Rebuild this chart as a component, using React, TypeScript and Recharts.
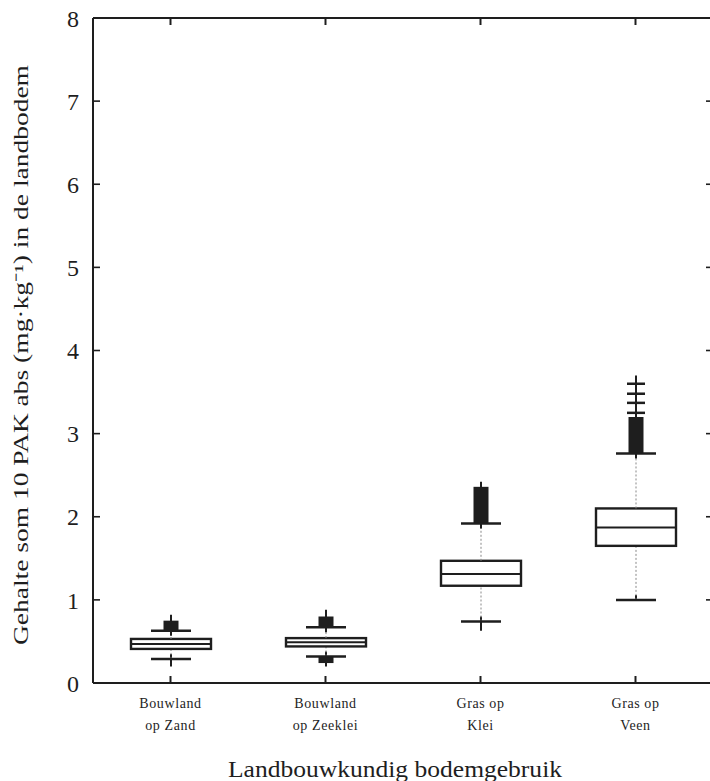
import { Bar, ComposedChart, Line, XAxis, YAxis } from 'recharts'

const categories = ['Bouwland op Zand', 'Bouwland op Zeeklei', 'Gras op Klei', 'Gras op Veen']
const labelTop = ['Bouwland', 'Bouwland', 'Gras op', 'Gras op']
const labelBottom = ['op  Zand', 'op Zeeklei', 'Klei', 'Veen']

// lowest / highest plotted value per group
const minValue = [0.2, 0.2, 0.63, 1.0]
const maxValue = [0.82, 0.88, 2.42, 3.7]
const whiskerLow = [0.29, 0.32, 0.74, 1.0]
const q1 = [0.41, 0.44, 1.17, 1.65]
const median = [0.47, 0.49, 1.31, 1.87]
const q3 = [0.53, 0.54, 1.47, 2.1]
const whiskerHigh = [0.63, 0.67, 1.92, 2.76]
// dense outlier block above the upper whisker (top value) and below the lower one
const outlierBlockTop = [0.75, 0.8, 2.36, 3.2]
const outlierBlockBottom: (number | null)[] = [null, 0.24, null, null]
const extremeOutliers = [[], [], [], [3.25, 3.37, 3.48, 3.6]]

const yTicks = [0, 1, 2, 3, 4, 5, 6, 7, 8]

const data = categories.map((name, i) => ({
  name,
  i,
  range: [minValue[i], maxValue[i]],
  mid: median[i],
}))

const ink = '#1e1e1e'
const serif = 'Liberation Serif'
const GAP = 12 // tickMargin used by every axis
const TICK = 7 // inward tick length

function BoxShape(props: any) {
  const { x, y, width, height, payload } = props
  const i = payload.i
  const top = Math.min(y, y + height)
  const h = Math.abs(height)
  const lo = minValue[i]
  const hi = maxValue[i]
  const py = (v: number) => top + ((hi - v) / (hi - lo)) * h
  const cx = x + width / 2
  const half = width / 2
  const capHalf = 20
  const blockHalf = 7.5
  const lb = outlierBlockBottom[i]
  return (
    <g>
      {/* lower part */}
      <line x1={cx} x2={cx} y1={py(lo)} y2={py(whiskerLow[i]) - 5} stroke={ink} strokeWidth={2} />
      {lb != null && (
        <rect x={cx - blockHalf} y={py(whiskerLow[i])} width={blockHalf * 2} height={py(lb) - py(whiskerLow[i])} fill={ink} />
      )}
      <line x1={cx} x2={cx} y1={py(whiskerLow[i])} y2={py(q1[i])} stroke="#888" strokeWidth={1} strokeDasharray="2 2" />
      <line x1={cx - capHalf} x2={cx + capHalf} y1={py(whiskerLow[i])} y2={py(whiskerLow[i])} stroke={ink} strokeWidth={2.5} />
      {/* box */}
      <rect x={cx - half} y={py(q3[i])} width={width} height={py(q1[i]) - py(q3[i])} fill="#fff" stroke={ink} strokeWidth={2.4} />
      <line x1={cx - half} x2={cx + half} y1={py(median[i])} y2={py(median[i])} stroke={ink} strokeWidth={2} />
      {/* upper part */}
      <line x1={cx} x2={cx} y1={py(q3[i])} y2={py(whiskerHigh[i])} stroke="#888" strokeWidth={1} strokeDasharray="2 2" />
      <rect x={cx - blockHalf} y={py(outlierBlockTop[i])} width={blockHalf * 2} height={py(whiskerHigh[i]) - py(outlierBlockTop[i])} fill={ink} />
      <line x1={cx} x2={cx} y1={py(whiskerHigh[i]) + 5} y2={py(hi)} stroke={ink} strokeWidth={2} />
      <line x1={cx - capHalf} x2={cx + capHalf} y1={py(whiskerHigh[i])} y2={py(whiskerHigh[i])} stroke={ink} strokeWidth={2.5} />
      {extremeOutliers[i].map((v, k) => (
        <line key={k} x1={cx - 9} x2={cx + 9} y1={py(v)} y2={py(v)} stroke={ink} strokeWidth={2.5} />
      ))}
    </g>
  )
}

function BottomTick(props: any) {
  const { x, y, index } = props
  const axisY = y - GAP
  return (
    <g>
      <path d={`M${x},${axisY}V${axisY - TICK}`} stroke={ink} strokeWidth={2} />
      <text x={x} y={axisY + 25} textAnchor="middle" fontFamily={serif} fontSize={14} fill={ink} letterSpacing={0.6}>
        {labelTop[index]}
      </text>
      <text x={x} y={axisY + 47} textAnchor="middle" fontFamily={serif} fontSize={14} fill={ink} letterSpacing={0.6}>
        {labelBottom[index]}
      </text>
    </g>
  )
}

function TopTick(props: any) {
  const { x, y } = props
  const axisY = y + GAP
  return <path d={`M${x},${axisY}V${axisY + TICK}`} stroke={ink} strokeWidth={2} />
}

function LeftTick(props: any) {
  const { x, y, payload } = props
  const axisX = x + GAP
  return (
    <g>
      <path d={`M${axisX},${y}H${axisX + TICK}`} stroke={ink} strokeWidth={1.6} />
      <text x={x - 2} y={y} dy="0.36em" textAnchor="end" fontFamily={serif} fontSize={24} fill={ink}>
        {payload.value}
      </text>
    </g>
  )
}

function RightTick(props: any) {
  const { x, y } = props
  const axisX = x - GAP
  return <path d={`M${axisX},${y}H${axisX - TICK}`} stroke={ink} strokeWidth={1.6} />
}

export default function App() {
  return (
    <div style={{ position: 'absolute', left: 0, top: 0, width: 710, height: 781, overflow: 'hidden', background: '#fff' }}>
      <ComposedChart width={720} height={781} data={data} margin={{ top: 17, right: 6, bottom: 0, left: 0 }}>
        <XAxis
          dataKey="name"
          height={98}
          axisLine={{ stroke: ink, strokeWidth: 2 }}
          tickLine={false}
          tickSize={0}
          tickMargin={GAP}
          tick={<BottomTick />}
          interval={0}
        />
        <XAxis
          xAxisId="top"
          dataKey="name"
          orientation="top"
          height={1}
          axisLine={{ stroke: ink, strokeWidth: 2 }}
          tickLine={false}
          tickSize={0}
          tickMargin={GAP}
          tick={<TopTick />}
          interval={0}
        />
        <YAxis
          type="number"
          domain={[0, 8]}
          ticks={yTicks}
          width={93}
          axisLine={{ stroke: ink, strokeWidth: 2 }}
          tickLine={false}
          tickSize={0}
          tickMargin={GAP}
          tick={<LeftTick />}
          interval={0}
        />
        <YAxis
          yAxisId="right"
          orientation="right"
          type="number"
          domain={[0, 8]}
          ticks={yTicks}
          width={1}
          axisLine={{ stroke: ink, strokeWidth: 2 }}
          tickLine={false}
          tickSize={0}
          tickMargin={GAP}
          tick={<RightTick />}
          interval={0}
        />
        <Bar dataKey="range" barSize={80} shape={<BoxShape />} isAnimationActive={false} />
        {/* invisible series so the top and right frame axes are drawn */}
        <Line
          xAxisId="top"
          yAxisId="right"
          dataKey="mid"
          stroke="none"
          dot={false}
          activeDot={false}
          legendType="none"
          isAnimationActive={false}
        />
        <text
          x={21}
          y={355}
          transform="rotate(-90 21 355)"
          textAnchor="middle"
          dominantBaseline="central"
          fontFamily={serif}
          fontSize={20}
          fill={ink}
          textLength={580}
          lengthAdjust="spacingAndGlyphs"
        >
          Gehalte som 10 PAK abs (mg·kg⁻¹) in de landbodem
        </text>
        <text
          x={395}
          y={777}
          textAnchor="middle"
          fontFamily={serif}
          fontSize={23}
          fill={ink}
          textLength={334}
          lengthAdjust="spacingAndGlyphs"
        >
          Landbouwkundig bodemgebruik
        </text>
      </ComposedChart>
    </div>
  )
}
